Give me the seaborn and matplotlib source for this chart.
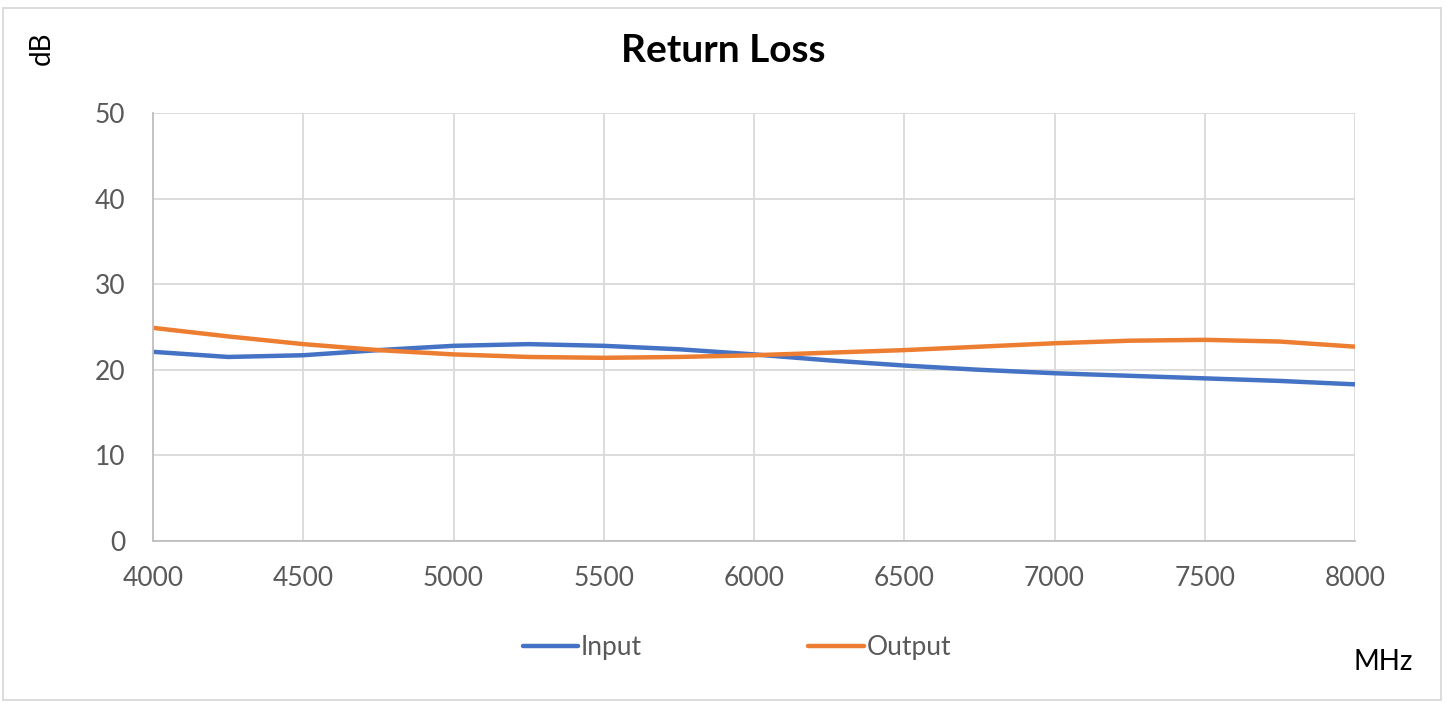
import matplotlib
matplotlib.use("Agg")
import matplotlib.pyplot as plt
import seaborn as sns
import pandas as pd
from matplotlib.patches import Rectangle
from matplotlib.lines import Line2D

freq = [4000, 4250, 4500, 4750, 5000, 5250, 5500, 5750, 6000,
        6250, 6500, 6750, 7000, 7250, 7500, 7750, 8000]
input_db = [22.1, 21.5, 21.7, 22.3, 22.8, 23.0, 22.8, 22.4, 21.8,
            21.1, 20.5, 20.0, 19.6, 19.3, 19.0, 18.7, 18.3]
output_db = [24.9, 23.9, 23.0, 22.3, 21.8, 21.5, 21.4, 21.5, 21.7,
             22.0, 22.3, 22.7, 23.1, 23.4, 23.5, 23.3, 22.7]
series_names = ["Input", "Output"]
x_ticks = [4000, 4500, 5000, 5500, 6000, 6500, 7000, 7500, 8000]
y_ticks = [0, 10, 20, 30, 40, 50]

df = pd.concat([
    pd.DataFrame({"MHz": freq, "dB": input_db, "Series": series_names[0]}),
    pd.DataFrame({"MHz": freq, "dB": output_db, "Series": series_names[1]}),
])

sns.set_style("white")
plt.rcParams['font.family'] = ['Lato', 'DejaVu Sans']

fig = plt.figure(figsize=(14.47, 7.03), dpi=100)
ax = fig.add_axes([153/1447, 1-541/703, (1355-153)/1447, (541-113)/703])

sns.lineplot(data=df, x="MHz", y="dB", hue="Series", ax=ax,
             palette=["#4472C4", "#ED7D31"], linewidth=3.2, legend=False)

ax.set_xlim(4000, 8000)
ax.set_ylim(0, 50)
ax.set_xticks(x_ticks)
ax.set_yticks(y_ticks)
ax.grid(True, color="#d9d9d9", linewidth=1.3)
ax.set_axisbelow(True)
for s in ["top", "right"]:
    ax.spines[s].set_visible(False)
for s in ["left", "bottom"]:
    ax.spines[s].set_color("#bfbfbf")
    ax.spines[s].set_linewidth(1.3)
ax.tick_params(axis="both", length=0, labelsize=19, colors="#595959")
ax.tick_params(axis="y", pad=20)
ax.tick_params(axis="x", pad=18)
ax.set_xlabel("")
ax.set_ylabel("")

fig.text(723/1447, 1-51/703, "Return Loss", ha="center", va="center",
         fontsize=28, fontweight="bold", color="black")
fig.text(42/1447, 1-48/703, "dB", ha="center", va="center", rotation=90,
         fontsize=20, color="black")
fig.text(1383/1447, 1-662/703, "MHz", ha="center", va="center",
         fontsize=20, color="black")

handles = [Line2D([], [], color="#4472C4", linewidth=3.2, solid_capstyle="round"),
           Line2D([], [], color="#ED7D31", linewidth=3.2, solid_capstyle="round")]
leg = fig.legend(handles, series_names, loc="center", bbox_to_anchor=(737/1447, 1-648/703),
                 ncol=2, frameon=False, fontsize=19, handlelength=2.1, handletextpad=0.1,
                 columnspacing=6.3)
for t in leg.get_texts():
    t.set_color("#595959")

fig.patches.append(Rectangle((3/1447, 3/703), 1438/1447, 692/703, transform=fig.transFigure,
                             fill=False, edgecolor="#d9d9d9", linewidth=1.3))

fig.savefig("out.png", dpi=100)
